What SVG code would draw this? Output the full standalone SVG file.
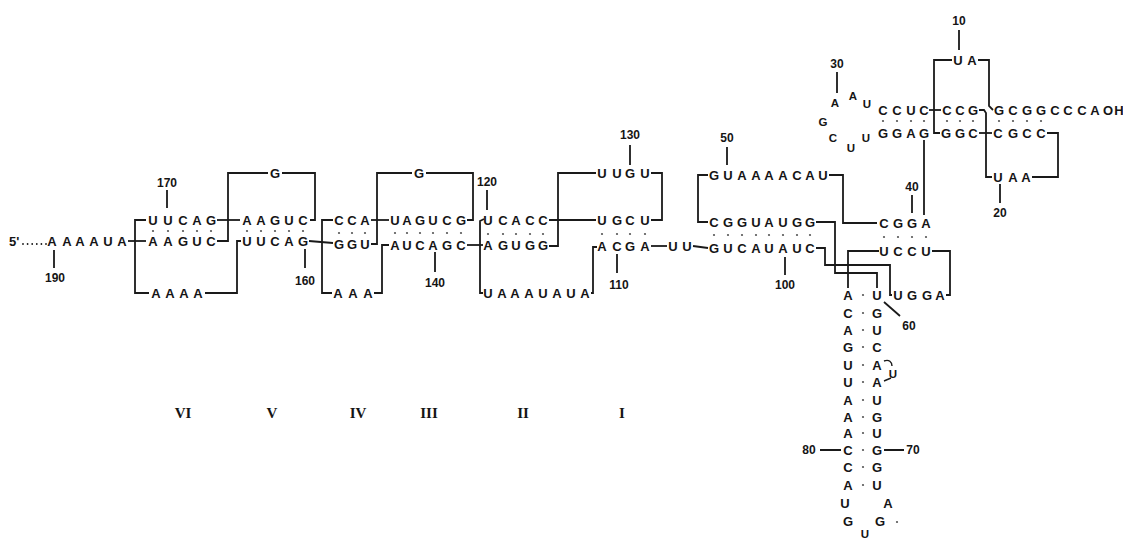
<svg xmlns="http://www.w3.org/2000/svg" width="1123" height="539" viewBox="0 0 1123 539">
<style>
.s{font-family:"Liberation Sans",Arial,sans-serif;font-weight:bold;font-size:13px;text-anchor:middle;fill:#151515}
.t{font-family:"Liberation Sans",Arial,sans-serif;font-weight:bold;font-size:11.5px;text-anchor:middle;fill:#151515}
.n{font-family:"Liberation Sans",Arial,sans-serif;font-weight:bold;font-size:12px;text-anchor:middle;fill:#151515}
.r{font-family:"Liberation Serif","Times New Roman",serif;font-weight:bold;font-size:15px;text-anchor:middle;fill:#151515}
.l{fill:none;stroke:#1a1a1a;stroke-width:1.8;stroke-linejoin:miter;stroke-linecap:butt}
.d{fill:#555}
</style>
<rect width="1123" height="539" fill="#fff"/>

<g id="connectors">
<path class="l" d="M23,244 L47,244" stroke-dasharray="0 4.6" style="stroke-linecap:round"/>
<path class="l" d="M128,241 L146,241"/>
<path class="l" d="M146,220 L135,220 L135,293 L149,293"/>
<path class="l" d="M217,220 L240,220"/>
<path class="l" d="M217,241 L228,241 L228,173 L268,173"/>
<path class="l" d="M282,173 L315,173 L315,220 L310,220"/>
<path class="l" d="M205,293 L237,293 L237,241 L241,241"/>
<path class="l" d="M309,241 L333,243"/>
<path class="l" d="M333,220 L322,220 L322,293 L332,293"/>
<path class="l" d="M371,220 L389,220"/>
<path class="l" d="M371,244 L377,244 L377,173 L412,173"/>
<path class="l" d="M426,173 L473,173 L473,220 L467,220"/>
<path class="l" d="M374,293 L382,293 L382,245 L389,245"/>
<path class="l" d="M467,245 L483,245"/>
<path class="l" d="M484,219 L480,221 L480,293 L483,293"/>
<path class="l" d="M549,220 L596,220"/>
<path class="l" d="M549,246 L558,246 L558,173 L596,173"/>
<path class="l" d="M651,173 L662,173 L662,220 L651,220"/>
<path class="l" d="M591,293 L593,293 L593,247 L597,247"/>
<path class="l" d="M651,246 L667,246"/>
<path class="l" d="M693,246 L708,248"/>
<path class="l" d="M708,175 L698,175 L698,222 L708,222"/>
<path class="l" d="M829,175 L843,175 L843,223 L877,223"/>
<path class="l" d="M816,222 L835,222 L835,273 L877,273 L877,288"/>
<path class="l" d="M816,248 L825,248 L825,265 L890,265 L890,295 L892,295"/>
<path class="l" d="M879,251 L848,251 L848,288"/>
<path class="l" d="M932,251 L950,251 L950,295 L946,295"/>
<path class="l" d="M952,60 L934,60 L934,133 L940,133"/>
<path class="l" d="M929,110 L941,110"/>
<path class="l" d="M978,60 L989,60 L989,106 L993,110"/>
<path class="l" d="M979,110 L984,110 L986,113 L986,177 L992,177"/>
<path class="l" d="M979,133 L992,133"/>
<path class="l" d="M1047,133 L1058,133 L1058,177 L1032,177"/>
<path class="l" d="M924,140 L924,215"/>
<path class="l" d="M884,361 C889,359 892,362 892,366" style="stroke-width:1.4"/>
<path class="l" d="M891,378 L884,381" style="stroke-width:1.4"/>
<path class="l" d="M54,250 L54,268 M167,190 L167,208 M305,249 L305,268 M435,252 L435,272 M487,190 L487,210 M630,145 L630,165 M617,254 L617,273 M727,147 L727,165 M785,257 L785,275 M912,195 L912,213 M884,302 L900,316 M820,450 L841,450 M884,450 L904,450 M837,72 L837,93 M959,30 L959,50 M1000,184 L1000,203"/>
</g>

<g id="helix-VI">
<text class="s" x="9" y="246" style="text-anchor:start">5'</text>
<text class="s" x="52 67 80 94 108 122" y="246">AAAAUA</text>
<text class="s" x="153 168 183 197 211" y="225">UUCAG</text>
<text class="s" x="153 168 183 197 211" y="246">AAGUC</text>
<text class="s" x="156 170 184 198" y="298">AAAA</text>
<text class="n" x="55" y="282">190</text>
<text class="n" x="167" y="187">170</text>
<g class="d"><circle cx="153" cy="231" r="1.1"/><circle cx="168" cy="231" r="1.1"/><circle cx="183" cy="231" r="1.1"/><circle cx="197" cy="231" r="1.1"/><circle cx="211" cy="231" r="1.1"/></g>
</g>

<g id="helix-V">
<text class="s" x="275" y="178">G</text>
<text class="s" x="247 261 275 289 303" y="225">AAGUC</text>
<text class="s" x="247 261 275 289 303" y="246">UUCAG</text>
<text class="n" x="305" y="285">160</text>
<g class="d"><circle cx="247" cy="231" r="1.1"/><circle cx="261" cy="231" r="1.1"/><circle cx="275" cy="231" r="1.1"/><circle cx="289" cy="231" r="1.1"/><circle cx="303" cy="231" r="1.1"/></g>
</g>

<g id="helix-IV">
<text class="s" x="339 352 365" y="225">CCA</text>
<text class="s" x="339 352 365" y="249">GGU</text>
<text class="s" x="338 353 368" y="298">AAA</text>
<g class="d"><circle cx="339" cy="233" r="1.1"/><circle cx="352" cy="233" r="1.1"/><circle cx="365" cy="233" r="1.1"/></g>
</g>

<g id="helix-III">
<text class="s" x="419" y="178">G</text>
<text class="s" x="395 407 420 433 447 461" y="225">UAGUCG</text>
<text class="s" x="395 407 420 433 447 461" y="250">AUCAGC</text>
<text class="n" x="435" y="287">140</text>
<text class="n" x="487" y="186">120</text>
<g class="d"><circle cx="395" cy="233" r="1.1"/><circle cx="407" cy="233" r="1.1"/><circle cx="420" cy="233" r="1.1"/><circle cx="433" cy="233" r="1.1"/><circle cx="447" cy="233" r="1.1"/><circle cx="461" cy="233" r="1.1"/></g>
</g>

<g id="helix-II">
<text class="s" x="488 503 516 530 543" y="225">UCACC</text>
<text class="s" x="488 503 516 530 543" y="250">AGUGG</text>
<text class="s" x="488 502 515 529 543 557 571 585" y="298">UAAAUAUA</text>
<text class="s" x="602 617 630 645" y="178">UUGU</text>
<text class="s" x="602 617 630 645" y="225">UGCU</text>
<text class="s" x="602 617 630 645" y="251">ACGA</text>
<text class="n" x="630" y="139">130</text>
<text class="n" x="619" y="289">110</text>
<g class="d"><circle cx="488" cy="234" r="1.1"/><circle cx="503" cy="234" r="1.1"/><circle cx="516" cy="234" r="1.1"/><circle cx="530" cy="234" r="1.1"/><circle cx="543" cy="234" r="1.1"/><circle cx="602" cy="234" r="1.1"/><circle cx="617" cy="234" r="1.1"/><circle cx="630" cy="234" r="1.1"/><circle cx="645" cy="234" r="1.1"/></g>
</g>

<g id="helix-I">
<text class="s" x="673 687" y="251">UU</text>
<text class="s" x="714 728 742 756 769 783 797 810" y="253">GUCAUAUC</text>
<text class="s" x="714 728 742 756 769 783 797 810" y="227">CGGUAUGG</text>
<text class="s" x="714 728 742 756 769 783 797 810 823" y="180">GUAAAACAU</text>
<text class="n" x="727" y="142">50</text>
<text class="n" x="785" y="289">100</text>
<g class="d"><circle cx="714" cy="235" r="1.1"/><circle cx="728" cy="235" r="1.1"/><circle cx="742" cy="235" r="1.1"/><circle cx="756" cy="235" r="1.1"/><circle cx="769" cy="235" r="1.1"/><circle cx="783" cy="235" r="1.1"/><circle cx="797" cy="235" r="1.1"/><circle cx="810" cy="235" r="1.1"/></g>
</g>

<g id="helix-junction">
<text class="s" x="884 898 912 926" y="228">CGGA</text>
<text class="s" x="884 898 912 926" y="256">UCCU</text>
<text class="s" x="898 912 927 940" y="300">UGGA</text>
<text class="n" x="912" y="191">40</text>
<text class="n" x="909" y="330">60</text>
<g class="d"><circle cx="884" cy="237" r="1.1"/><circle cx="898" cy="237" r="1.1"/><circle cx="912" cy="237" r="1.1"/><circle cx="926" cy="237" r="1.1"/></g>
</g>

<g id="stem">
<text class="s" x="848 848 848 848 848 848 848 848 848 848 848 848" y="300 318 335 352 370 387 405 422 438 455 472 490">ACAGUUAAACCA</text>
<text class="s" x="877 877 877 877 877 877 877 877 877 877 877 877" y="300 318 335 352 370 387 405 422 438 455 472 490">UGUCAAUGUGGU</text>
<g class="d"><circle cx="863" cy="295" r="1.1"/><circle cx="863" cy="313" r="1.1"/><circle cx="863" cy="330" r="1.1"/><circle cx="863" cy="347" r="1.1"/><circle cx="863" cy="365" r="1.1"/><circle cx="863" cy="382" r="1.1"/><circle cx="863" cy="400" r="1.1"/><circle cx="863" cy="417" r="1.1"/><circle cx="863" cy="433" r="1.1"/><circle cx="863" cy="450" r="1.1"/><circle cx="863" cy="467" r="1.1"/><circle cx="863" cy="485" r="1.1"/><circle cx="897" cy="522" r="1.1"/></g>
<text class="t" x="893" y="378">U</text>
<text class="s" x="845" y="508">U</text>
<text class="s" x="888" y="508">A</text>
<text class="s" x="848" y="526">G</text>
<text class="s" x="880" y="526">G</text>
<text class="t" x="865" y="538">U</text>
<text class="n" x="809" y="454">80</text>
<text class="n" x="913" y="454">70</text>
</g>

<g id="acceptor-domain">
<text class="n" x="837" y="68">30</text>
<text class="t" x="835" y="107">A</text>
<text class="t" x="853" y="100">A</text>
<text class="t" x="867" y="108">U</text>
<text class="t" x="823" y="126">G</text>
<text class="t" x="833" y="142">C</text>
<text class="t" x="851" y="152">U</text>
<text class="t" x="866" y="142">U</text>
<text class="s" x="883 897 911 924" y="115">CCUC</text>
<text class="s" x="947 960 973" y="115">CCG</text>
<text class="s" x="999 1013 1027 1041 1055 1068 1082 1095 1108 1119" y="115">GCGGCCCAOH</text>
<text class="s" x="883 897 911 924" y="138">GGAG</text>
<text class="s" x="946 960 973" y="138">GGC</text>
<text class="s" x="998 1013 1027 1041" y="138">CGCC</text>
<text class="s" x="998 1013 1026" y="182">UAA</text>
<text class="s" x="958 972" y="65">UA</text>
<text class="n" x="959" y="25">10</text>
<text class="n" x="1000" y="217">20</text>
<g class="d"><circle cx="883" cy="121" r="1.1"/><circle cx="897" cy="121" r="1.1"/><circle cx="911" cy="121" r="1.1"/><circle cx="924" cy="121" r="1.1"/><circle cx="947" cy="121" r="1.1"/><circle cx="960" cy="121" r="1.1"/><circle cx="973" cy="121" r="1.1"/><circle cx="999" cy="121" r="1.1"/><circle cx="1013" cy="121" r="1.1"/><circle cx="1027" cy="121" r="1.1"/><circle cx="1041" cy="121" r="1.1"/></g>
</g>

<g id="domain-labels">
<text class="r" x="183" y="418">VI</text>
<text class="r" x="272" y="418">V</text>
<text class="r" x="358" y="418">IV</text>
<text class="r" x="429" y="418">III</text>
<text class="r" x="523" y="418">II</text>
<text class="r" x="622" y="418">I</text>
</g>
</svg>
